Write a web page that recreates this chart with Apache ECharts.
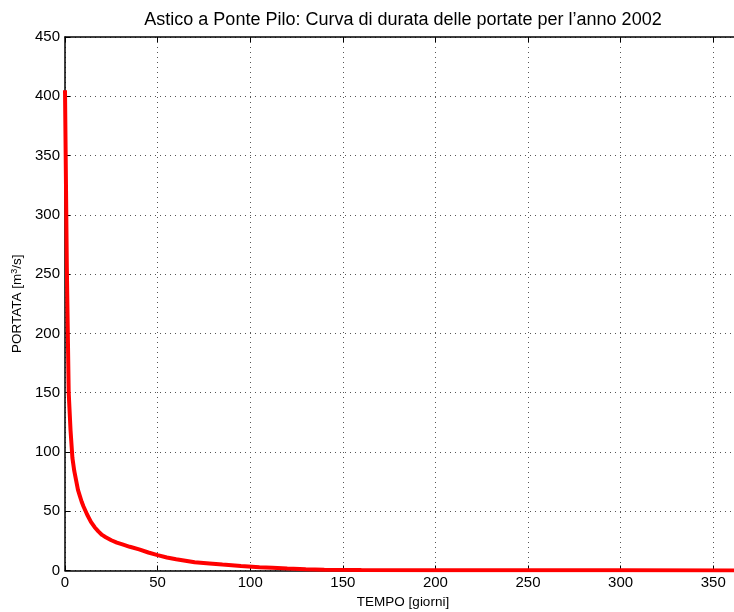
<!DOCTYPE html>
<html><head><meta charset="utf-8">
<script src="https://cdn.jsdelivr.net/npm/echarts@6/dist/echarts.min.js"></script>
<style>html,body{margin:0;padding:0;background:#fff}#c{width:734px;height:612px}</style>
</head><body><div id="c"></div>
<script>
const days = [0,1,2,3,4,5,6,7,8,9,10,12,14,16,18,20,22,25,28,31,35,40,45,50,55,60,65,70,78,85,95,105,112,120,130,140,160,200,250,300,365];
const flows = [405,255,150,118,95,84,76,68,63,58,54,47,41,36.5,33,30,28,25.5,23.5,22,20,17.8,15.2,13,11,9.5,8.3,7,6,5,3.7,2.8,2.3,1.7,1.0,0.7,0.45,0.3,0.2,0.15,0.1];
const xTicks = [0,50,100,150,200,250,300,350];
const yTicks = [0,50,100,150,200,250,300,350,400,450];

const font = 'Liberation Sans, Arial, Helvetica, sans-serif';
const chart = echarts.init(document.getElementById('c'), null, {renderer:'canvas'});
const xMax = 365;
const grid = {left:65, top:37, width:676, height:533.5, outerBoundsMode:'none', containLabel:false};
const dotted = {show:true, lineStyle:{color:'#555', type:[1,4], width:1}};
chart.setOption({
  animation:false,
  title:{text:'Astico a Ponte Pilo: Curva di durata delle portate per l\u2019anno 2002',
    left:398, textAlign:'center', top:6,
    textStyle:{fontFamily:font, fontSize:18, fontWeight:'normal', color:'#000'}},
  grid:grid,
  xAxis:[{
    type:'value', min:0, max:xMax, interval:50,
    name:'TEMPO [giorni]', nameLocation:'middle', nameGap:25, nameTextStyle:{fontFamily:font, fontSize:13.5, color:'#000', align:'center'},
    axisLine:{show:true, onZero:false, lineStyle:{color:'#000', width:1.5}},
    axisTick:{show:true, inside:true, length:5, lineStyle:{color:'#000'}},
    axisLabel:{fontFamily:font, fontSize:15, color:'#000', margin:5, showMaxLabel:false,
      formatter:v=>xTicks.includes(v)?String(v):''},
    splitLine:dotted
  },{
    type:'value', min:0, max:xMax, interval:50, position:'top',
    axisLine:{show:true, onZero:false, lineStyle:{color:'#000', width:1.5}},
    axisTick:{show:true, inside:true, length:5, lineStyle:{color:'#000'}},
    axisLabel:{show:false}, splitLine:{show:false}
  }],
  yAxis:[{
    type:'value', min:0, max:450, interval:50,
    name:'{n|PORTATA [m}{s|3}{n|/s]}', nameLocation:'middle', nameGap:40, nameRotate:90,
    nameTextStyle:{fontFamily:font, fontSize:13.5, color:'#000',
      rich:{n:{fontFamily:font, fontSize:13.5, color:'#000'}, s:{fontFamily:font, fontSize:9, color:'#000', verticalAlign:'top', padding:[0,0,6,0]}}},
    axisLine:{show:true, onZero:false, lineStyle:{color:'#000', width:1.5}},
    axisTick:{show:true, inside:true, length:5, lineStyle:{color:'#000'}},
    axisLabel:{fontFamily:font, fontSize:15, color:'#000', margin:5,
      formatter:v=>yTicks.includes(v)?String(v):''},
    splitLine:dotted
  }],
  series:[{
    type:'line', xAxisIndex:0, yAxisIndex:0,
    data: days.map((d,i)=>[d, flows[i]]),
    showSymbol:false, symbol:'none', smooth:false,
    lineStyle:{color:'#ff0000', width:4},
    clip:true
  }]
});
</script></body></html>
